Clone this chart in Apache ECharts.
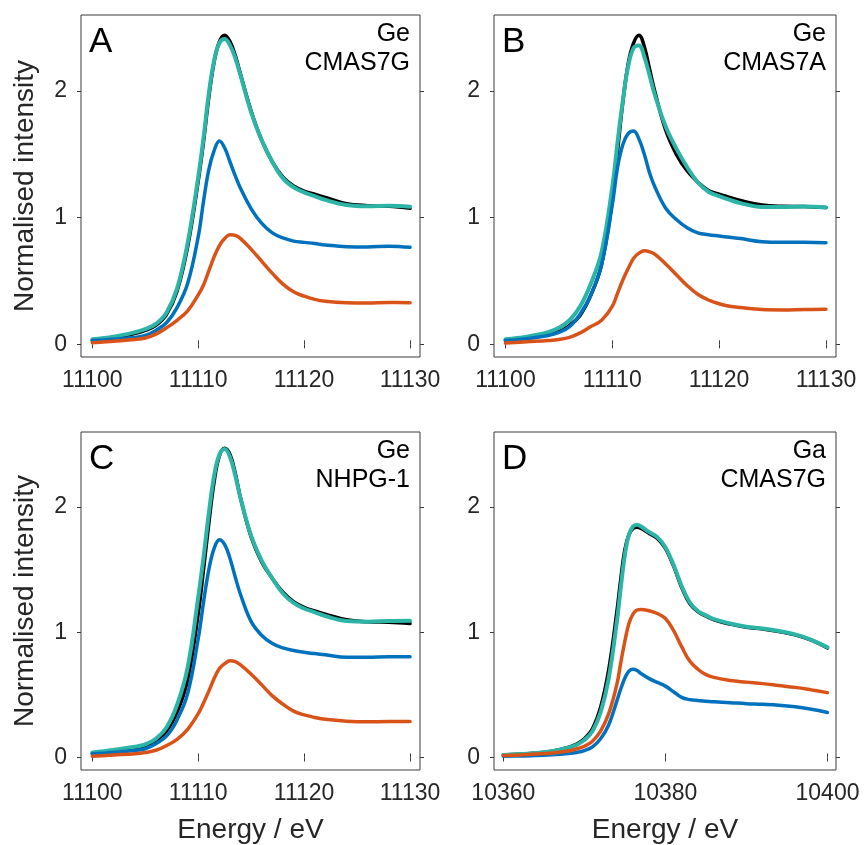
<!DOCTYPE html>
<html>
<head>
<meta charset="utf-8">
<script src="https://cdn.jsdelivr.net/npm/echarts@6/dist/echarts.min.js"></script>
<style>
html,body{margin:0;padding:0;background:#fff;}
#chart{width:867px;height:845px;}
</style>
</head>
<body>
<div id="chart"></div>
<script>
// ---- Data ----
const geEnergy = [11100, 11102, 11104, 11105, 11106, 11107, 11108, 11109, 11110, 11110.5, 11111, 11111.5, 11112, 11112.5, 11113, 11113.5, 11114, 11115, 11116, 11117, 11118, 11119, 11120, 11121, 11122, 11124, 11126, 11128, 11130];
const gaEnergy = [10360, 10362, 10364, 10366, 10368, 10369, 10370, 10371, 10372, 10373, 10374, 10374.5, 10375, 10375.5, 10376, 10376.5, 10377, 10378, 10379, 10380, 10381, 10382, 10383, 10384, 10385, 10386, 10388, 10390, 10392, 10394, 10396, 10398, 10400];

// Panel A: Ge CMAS7G
const aBlack  = [0.03, 0.05, 0.085, 0.11, 0.15, 0.235, 0.42, 0.77, 1.29, 1.60, 1.95, 2.23, 2.39, 2.44, 2.39, 2.28, 2.13, 1.84, 1.61, 1.44, 1.32, 1.25, 1.21, 1.185, 1.16, 1.11, 1.095, 1.09, 1.074];
const aTeal   = [0.04, 0.06, 0.095, 0.12, 0.162, 0.25, 0.44, 0.80, 1.32, 1.63, 1.98, 2.24, 2.38, 2.41, 2.36, 2.26, 2.12, 1.83, 1.61, 1.44, 1.31, 1.24, 1.20, 1.17, 1.14, 1.10, 1.09, 1.095, 1.087];
const aBlue   = [0.03, 0.04, 0.055, 0.07, 0.11, 0.17, 0.29, 0.48, 0.85, 1.13, 1.38, 1.53, 1.605, 1.55, 1.44, 1.33, 1.23, 1.07, 0.955, 0.88, 0.84, 0.815, 0.805, 0.796, 0.785, 0.77, 0.768, 0.775, 0.766];
const aOrange = [0.013, 0.025, 0.038, 0.05, 0.08, 0.13, 0.19, 0.265, 0.39, 0.468, 0.58, 0.69, 0.78, 0.835, 0.865, 0.86, 0.835, 0.75, 0.655, 0.56, 0.475, 0.415, 0.38, 0.355, 0.34, 0.328, 0.326, 0.33, 0.329];

// Panel B: Ge CMAS7A
const bBlack  = [0.03, 0.05, 0.08, 0.10, 0.15, 0.23, 0.39, 0.63, 1.14, 1.53, 1.92, 2.22, 2.38, 2.44, 2.35, 2.17, 1.99, 1.69, 1.50, 1.37, 1.28, 1.215, 1.185, 1.16, 1.135, 1.10, 1.09, 1.088, 1.08];
const bTeal   = [0.04, 0.06, 0.095, 0.13, 0.19, 0.30, 0.48, 0.73, 1.24, 1.60, 1.93, 2.20, 2.34, 2.36, 2.27, 2.12, 1.965, 1.72, 1.545, 1.40, 1.28, 1.205, 1.17, 1.14, 1.115, 1.085, 1.085, 1.088, 1.081];
const bBlue   = [0.03, 0.045, 0.07, 0.095, 0.14, 0.24, 0.39, 0.63, 1.10, 1.40, 1.58, 1.665, 1.685, 1.62, 1.50, 1.35, 1.24, 1.075, 0.985, 0.92, 0.88, 0.865, 0.855, 0.845, 0.835, 0.81, 0.805, 0.806, 0.802];
const bOrange = [0.01, 0.02, 0.03, 0.038, 0.055, 0.09, 0.14, 0.19, 0.30, 0.405, 0.51, 0.60, 0.68, 0.72, 0.738, 0.73, 0.71, 0.635, 0.55, 0.465, 0.395, 0.35, 0.32, 0.30, 0.29, 0.275, 0.272, 0.275, 0.276];

// Panel C: Ge NHPG-1
const cBlack  = [0.03, 0.05, 0.075, 0.095, 0.135, 0.21, 0.36, 0.62, 1.15, 1.50, 1.87, 2.20, 2.41, 2.47, 2.42, 2.27, 2.07, 1.76, 1.56, 1.43, 1.32, 1.245, 1.20, 1.17, 1.145, 1.10, 1.085, 1.08, 1.07];
const cTeal   = [0.04, 0.06, 0.085, 0.105, 0.15, 0.24, 0.42, 0.72, 1.28, 1.60, 1.95, 2.25, 2.42, 2.465, 2.40, 2.25, 2.07, 1.77, 1.57, 1.43, 1.31, 1.235, 1.19, 1.16, 1.13, 1.09, 1.085, 1.09, 1.092];
const cBlue   = [0.03, 0.04, 0.055, 0.07, 0.11, 0.17, 0.30, 0.51, 0.95, 1.24, 1.50, 1.67, 1.74, 1.70, 1.59, 1.44, 1.30, 1.085, 0.975, 0.91, 0.875, 0.855, 0.84, 0.83, 0.82, 0.80, 0.80, 0.805, 0.805];
const cOrange = [0.01, 0.02, 0.03, 0.04, 0.058, 0.095, 0.145, 0.225, 0.35, 0.435, 0.53, 0.63, 0.71, 0.75, 0.772, 0.765, 0.74, 0.665, 0.58, 0.492, 0.425, 0.37, 0.34, 0.32, 0.305, 0.29, 0.285, 0.287, 0.287];

// Panel D: Ga CMAS7G
const dBlack  = [0.02, 0.025, 0.035, 0.05, 0.08, 0.105, 0.15, 0.23, 0.40, 0.70, 1.16, 1.43, 1.66, 1.78, 1.83, 1.84, 1.83, 1.79, 1.75, 1.67, 1.53, 1.36, 1.23, 1.165, 1.13, 1.10, 1.065, 1.04, 1.027, 1.007, 0.98, 0.937, 0.875];
const dTeal   = [0.02, 0.025, 0.035, 0.05, 0.078, 0.10, 0.14, 0.21, 0.36, 0.63, 1.08, 1.36, 1.62, 1.78, 1.845, 1.86, 1.845, 1.80, 1.76, 1.68, 1.54, 1.37, 1.24, 1.17, 1.135, 1.105, 1.07, 1.045, 1.03, 1.01, 0.983, 0.94, 0.88];
const dBlue   = [0.01, 0.012, 0.015, 0.022, 0.032, 0.04, 0.055, 0.085, 0.15, 0.26, 0.45, 0.55, 0.635, 0.69, 0.705, 0.695, 0.67, 0.63, 0.60, 0.57, 0.525, 0.48, 0.462, 0.455, 0.45, 0.445, 0.438, 0.43, 0.425, 0.418, 0.405, 0.385, 0.36];
const dOrange = [0.015, 0.02, 0.027, 0.036, 0.052, 0.068, 0.09, 0.13, 0.21, 0.35, 0.58, 0.76, 0.93, 1.07, 1.145, 1.178, 1.183, 1.172, 1.15, 1.11, 1.015, 0.885, 0.77, 0.705, 0.662, 0.64, 0.615, 0.602, 0.59, 0.575, 0.56, 0.54, 0.518];

const geTicks = [11100, 11110, 11120, 11130];
const gaTicks = [10360, 10380, 10400];
const yTicks = [0, 1, 2];
const panelLetters = ['A', 'B', 'C', 'D'];
const panelElement = ['Ge', 'Ge', 'Ge', 'Ga'];
const panelSample = ['CMAS7G', 'CMAS7A', 'NHPG-1', 'CMAS7G'];
const yTitle = 'Normalised intensity';
const xTitle = 'Energy / eV';

// ---- Styles ----
const FONT = '"Liberation Sans", Arial, Helvetica, sans-serif';
const TXT = '#262626';
const BOX = '#3a3a3a';
const COLORS = { black: '#000000', teal: '#2cb5a6', blue: '#0072bd', orange: '#d95319' };

const panels = [
  { grid: { left: 81, top: 15, width: 339, height: 342 }, energy: geEnergy, ticks: geTicks, xmin: 11098.93, xmax: 11130.94,
    series: [aBlack, aTeal, aBlue, aOrange], yName: true, xName: false },
  { grid: { left: 494, top: 15, width: 342, height: 342 }, energy: geEnergy, ticks: geTicks, xmin: 11098.93, xmax: 11130.94,
    series: [bBlack, bTeal, bBlue, bOrange], yName: false, xName: false },
  { grid: { left: 81, top: 432, width: 339, height: 338 }, energy: geEnergy, ticks: geTicks, xmin: 11098.93, xmax: 11130.94,
    series: [cBlack, cTeal, cBlue, cOrange], yName: true, xName: true },
  { grid: { left: 494, top: 432, width: 342, height: 338 }, energy: gaEnergy, ticks: gaTicks, xmin: 10358.85, xmax: 10401.05,
    series: [dBlack, dTeal, dBlue, dOrange], yName: false, xName: true }
];

const option = { animation: false, backgroundColor: '#ffffff', grid: [], xAxis: [], yAxis: [], series: [], graphic: [] };
const order = ['black', 'teal', 'blue', 'orange'];
const plain = v => String(v);

panels.forEach((p, i) => {
  option.grid.push(Object.assign({ show: true, borderColor: BOX, borderWidth: 1, backgroundColor: 'transparent', containLabel: false }, p.grid));
  const tickStyle = { show: true, inside: false, length: 4, lineStyle: { color: BOX, width: 1 } };
  option.xAxis.push({
    type: 'value', gridIndex: i, position: 'bottom', min: p.xmin, max: p.xmax,
    axisLine: { show: false }, splitLine: { show: false },
    axisTick: Object.assign({ customValues: p.ticks }, tickStyle),
    axisLabel: { customValues: p.ticks, formatter: plain, color: TXT, fontSize: 23, fontFamily: FONT, margin: 12 },
    name: p.xName ? xTitle : '', nameLocation: 'middle', nameGap: 46,
    nameTextStyle: { color: TXT, fontSize: 28, fontFamily: FONT }
  });
  option.xAxis.push({
    type: 'value', gridIndex: i, position: 'top', min: p.xmin, max: p.xmax,
    axisLine: { show: false }, splitLine: { show: false },
    axisTick: Object.assign({ customValues: p.ticks }, tickStyle),
    axisLabel: { show: false }
  });
  option.yAxis.push({
    type: 'value', gridIndex: i, position: 'left', min: -0.1, max: 2.6,
    axisLine: { show: false }, splitLine: { show: false },
    axisTick: Object.assign({ customValues: yTicks }, tickStyle),
    axisLabel: { customValues: yTicks, formatter: plain, color: TXT, fontSize: 23, fontFamily: FONT, margin: 14 },
    name: p.yName ? yTitle : '', nameLocation: 'middle', nameGap: 42, nameRotate: 90,
    nameTextStyle: { color: TXT, fontSize: 28, fontFamily: FONT }
  });
  option.yAxis.push({
    type: 'value', gridIndex: i, position: 'right', min: -0.1, max: 2.6,
    axisLine: { show: false }, splitLine: { show: false },
    axisTick: Object.assign({ customValues: yTicks }, tickStyle),
    axisLabel: { show: false }
  });

  p.series.forEach((vals, k) => {
    option.series.push({
      type: 'line', xAxisIndex: 2 * i, yAxisIndex: 2 * i,
      data: p.energy.map((e, j) => [e, vals[j]]),
      showSymbol: false, symbol: 'none', smooth: 0.4,
      lineStyle: { color: COLORS[order[k]], width: order[k] === 'teal' ? 4 : 3.5, cap: 'round', join: 'round' },
      z: 2 + k, silent: true
    });
  });

  const g = p.grid;
  const right = g.left + g.width - 10;
  option.graphic.push({
    type: 'text', left: g.left + 8, top: g.top + 10,
    style: { text: panelLetters[i], fontSize: 35, fontFamily: FONT, fill: '#000' }
  });
  option.graphic.push({
    type: 'text', x: right, y: g.top + 19,
    style: { text: panelElement[i], fontSize: 25, fontFamily: FONT, fill: '#000', align: 'right', verticalAlign: 'middle' }
  });
  option.graphic.push({
    type: 'text', x: right, y: g.top + 48,
    style: { text: panelSample[i], fontSize: 25, fontFamily: FONT, fill: '#000', align: 'right', verticalAlign: 'middle' }
  });
});

const chart = echarts.init(document.getElementById('chart'), null, { renderer: 'canvas' });
chart.setOption(option);
</script>
</body>
</html>
